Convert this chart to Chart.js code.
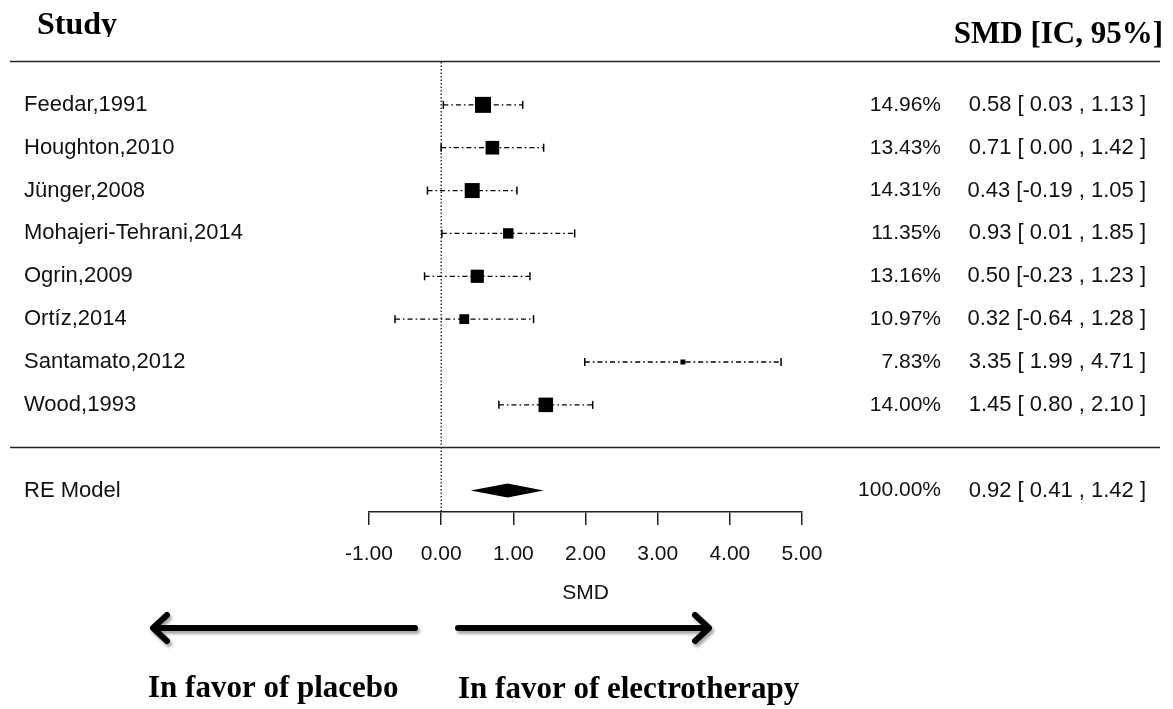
<!DOCTYPE html>
<html>
<head>
<meta charset="utf-8">
<script src="https://cdn.jsdelivr.net/npm/chart.js@4.4.1/dist/chart.umd.min.js"></script>
<style>
  body { margin: 0; background: #fff; }
  #wrap { width: 1173px; height: 709px; position: relative; }
</style>
</head>
<body>
<div id="wrap"><canvas id="forest"></canvas></div>
<script>
// Forest plot: electrotherapy vs placebo, standardized mean difference.
const studyNames = ["Feedar,1991", "Houghton,2010", "Jünger,2008", "Mohajeri-Tehrani,2014",
  "Ogrin,2009", "Ortíz,2014", "Santamato,2012", "Wood,1993"];
const studyWeights = [14.96, 13.43, 14.31, 11.35, 13.16, 10.97, 7.83, 14.00];
const studySmd = [0.58, 0.71, 0.43, 0.93, 0.50, 0.32, 3.35, 1.45];
const studyLower = [0.03, 0.00, -0.19, 0.01, -0.23, -0.64, 1.99, 0.80];
const studyUpper = [1.13, 1.42, 1.05, 1.85, 1.23, 1.28, 4.71, 2.10];

const modelLabel = "RE Model";
const modelWeight = 100.00;
const modelSmd = 0.92;
const modelLower = 0.41;
const modelUpper = 1.42;

const axisTicks = [-1, 0, 1, 2, 3, 4, 5];

// Row layout (reversed y): studies on rows 1..8, summary two rows below the last study.
const studyRows = studyNames.map((name, i) => i + 1);
const separatorRow = studyNames.length + 1;
const modelRow = studyNames.length + 2;

const SANS = "'Liberation Sans', Arial, sans-serif";
const SERIF = "'Liberation Serif', 'Times New Roman', serif";

// Square size grows with weight (small study -> small box).
const wMin = Math.min(...studyWeights);
const wMax = Math.max(...studyWeights);
function boxRadius(w) {
  const side = 5 + (w - wMin) / (wMax - wMin) * 11;
  return side / Math.SQRT2;
}

function fmtCol(values) {
  const strs = values.map(v => v.toFixed(2));
  const width = Math.max(...strs.map(s => s.length));
  return strs.map(s => s.padStart(width, " "));
}

function estimateText(est, lo, hi) {
  const e = fmtCol(est), l = fmtCol(lo), h = fmtCol(hi);
  return e.map((s, i) => s + " [" + l[i] + " , " + h[i] + " ]");
}

const allEst = studySmd.concat([modelSmd]);
const allLo = studyLower.concat([modelLower]);
const allHi = studyUpper.concat([modelUpper]);
const estLabels = estimateText(allEst, allLo, allHi);
const weightLabels = studyWeights.concat([modelWeight]).map(w => w.toFixed(2) + "%");

// Datasets: squares first so they sit on top of the CI lines.
const datasets = [{
  type: "scatter",
  data: studySmd.map((v, i) => ({ x: v, y: studyRows[i] })),
  pointStyle: "rect",
  pointRadius: studyWeights.map(boxRadius),
  pointBackgroundColor: "#000",
  pointBorderWidth: 0,
}];
studyNames.forEach((name, i) => {
  datasets.push({
    type: "line",
    data: [{ x: studyLower[i], y: studyRows[i] }, { x: studyUpper[i], y: studyRows[i] }],
    borderColor: "#000",
    borderWidth: 1.3,
    borderDash: [5, 3, 1.6, 3],
    pointStyle: "line",
    pointRotation: 90,
    pointRadius: 4,
    pointBorderWidth: 1.5,
    pointBorderColor: "#000",
    fill: false,
  });
});

// Plugin for the dotted null line, summary diamond, table text and arrows.
const forestDecor = {
  id: "forestDecor",
  beforeDatasetsDraw(chart) {
    const { ctx, chartArea, scales } = chart;
    const x0 = scales.x.getPixelForValue(0);
    ctx.save();
    ctx.strokeStyle = "#000";
    ctx.lineWidth = 1.2;
    ctx.setLineDash([1.5, 2]);
    ctx.beginPath();
    ctx.moveTo(x0, chartArea.top);
    ctx.lineTo(x0, chartArea.bottom);
    ctx.stroke();
    ctx.restore();
  },
  afterDraw(chart) {
    const { ctx, chartArea, scales } = chart;
    const xs = scales.x, ys = scales.y;
    ctx.save();

    // Summary diamond
    const yM = ys.getPixelForValue(modelRow);
    ctx.fillStyle = "#000";
    ctx.beginPath();
    ctx.moveTo(xs.getPixelForValue(modelLower), yM);
    ctx.lineTo(xs.getPixelForValue(modelSmd), yM - 7);
    ctx.lineTo(xs.getPixelForValue(modelUpper), yM);
    ctx.lineTo(xs.getPixelForValue(modelSmd), yM + 7);
    ctx.closePath();
    ctx.fill();

    // Horizontal rules
    ctx.strokeStyle = "#222";
    ctx.lineWidth = 1.5;
    [0, separatorRow].forEach(r => {
      const y = Math.round(ys.getPixelForValue(r)) - 0.5;
      ctx.beginPath();
      ctx.moveTo(10, y);
      ctx.lineTo(1160, y);
      ctx.stroke();
    });

    // Table text
    ctx.fillStyle = "#111";
    ctx.textBaseline = "middle";
    const rows = studyRows.concat([modelRow]);
    const names = studyNames.concat([modelLabel]);
    rows.forEach((r, i) => {
      const y = ys.getPixelForValue(r);
      ctx.font = "22px " + SANS;
      ctx.textAlign = "left";
      ctx.fillText(names[i], 24, y);
      ctx.textAlign = "right";
      ctx.fillText(estLabels[i], 1146, y);
      ctx.font = "21px " + SANS;
      ctx.fillText(weightLabels[i], 941, y);
    });

    // Axis title
    ctx.font = "21px " + SANS;
    ctx.textAlign = "center";
    ctx.fillText("SMD", xs.getPixelForValue(2), 593);

    // Headers (Study is clipped at the bottom like the original)
    ctx.fillStyle = "#000";
    ctx.textBaseline = "alphabetic";
    ctx.font = "bold 32px " + SERIF;
    ctx.save();
    ctx.beginPath();
    ctx.rect(0, 0, 300, 37);
    ctx.clip();
    ctx.textAlign = "left";
    ctx.fillText("Study", 37, 34);
    ctx.restore();
    ctx.font = "bold 31px " + SERIF;
    ctx.textAlign = "right";
    ctx.fillText("SMD [IC, 95%]", 1163, 43);

    // Direction arrows
    ctx.save();
    ctx.shadowColor = "rgba(0,0,0,0.35)";
    ctx.shadowOffsetX = 2;
    ctx.shadowOffsetY = 3;
    ctx.shadowBlur = 3;
    ctx.strokeStyle = "#000";
    ctx.lineWidth = 6;
    ctx.lineCap = "round";
    ctx.lineJoin = "round";
    ctx.beginPath();
    ctx.moveTo(415, 628);
    ctx.lineTo(153, 628);
    ctx.moveTo(167, 615);
    ctx.lineTo(153, 628);
    ctx.lineTo(167, 641);
    ctx.moveTo(458, 628);
    ctx.lineTo(709, 628);
    ctx.moveTo(695, 615);
    ctx.lineTo(709, 628);
    ctx.lineTo(695, 641);
    ctx.stroke();
    ctx.restore();

    ctx.font = "bold 31px " + SERIF;
    ctx.textAlign = "left";
    ctx.fillText("In favor of placebo", 148, 697);
    ctx.fillText("In favor of electrotherapy", 458, 698);
    ctx.restore();
  }
};

const ctx = document.getElementById("forest");
new Chart(ctx, {
  type: "scatter",
  data: { datasets: datasets },
  plugins: [forestDecor],
  options: {
    responsive: true,
    maintainAspectRatio: false,
    animation: false,
    events: [],
    layout: { padding: { left: 369, right: 371, top: 62, bottom: 0 } },
    plugins: { legend: { display: false }, tooltip: { enabled: false } },
    scales: {
      x: {
        type: "linear",
        min: -1,
        max: 5,
        afterBuildTicks: (scale) => { scale.ticks = axisTicks.map(v => ({ value: v })); },
        afterFit: (scale) => { scale.height = 197; },
        grid: { drawOnChartArea: false, drawTicks: true, tickLength: 13, color: "#222", lineWidth: 1.5 },
        border: { display: true, color: "#222", width: 1.5 },
        ticks: {
          padding: 17,
          color: "#111",
          maxRotation: 0,
          font: { family: SANS, size: 21 },
          callback: (v) => Number(v).toFixed(2),
        },
      },
      y: {
        type: "linear",
        display: false,
        reverse: true,
        min: 0,
        max: modelRow + 0.5,
      },
    },
  },
});
</script>
</body>
</html>
